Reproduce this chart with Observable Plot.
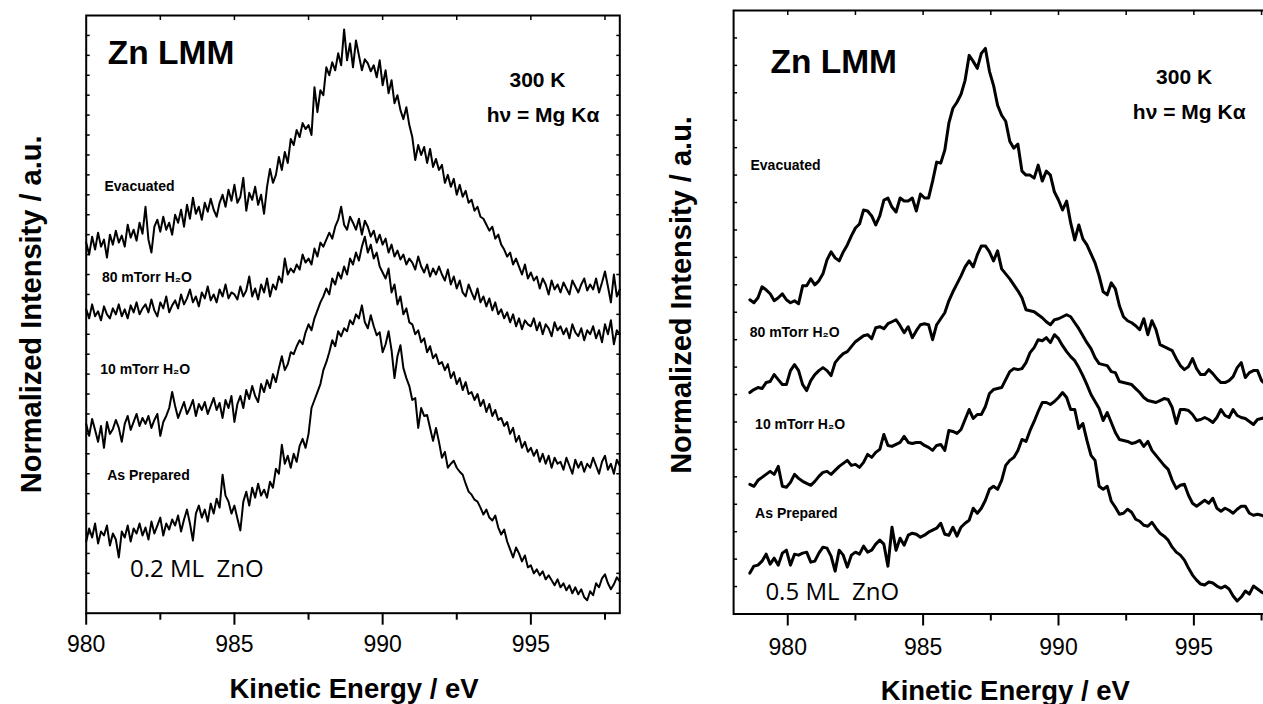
<!DOCTYPE html>
<html>
<head>
<meta charset="utf-8">
<script src="https://cdn.jsdelivr.net/npm/d3@7"></script>
<script src="https://cdn.jsdelivr.net/npm/@observablehq/plot@0.6"></script>
<style>
  html, body { margin: 0; padding: 0; background: #fff; overflow: hidden; }
  #wrap { position: relative; width: 1263px; height: 704px; overflow: hidden; background: #fff; }
  #left { position: absolute; left: 0; top: 0; width: 625px; height: 704px; }
  #right { position: absolute; left: 640px; top: 0; width: 640px; height: 704px; }
  #wrap svg { max-width: none !important; display: block; }
</style>
</head>
<body>
<div id="wrap"><div id="left"></div><div id="right"></div></div>
<script>
// ---------- texts ----------
const titleText = "Zn LMM";
const tempText = "300 K";
const sourceText = "hν = Mg Kα";
const seriesNames = ["Evacuated", "80 mTorr H₂O", "10 mTorr H₂O", "As Prepared"];
const coverageLeft = "0.2 ML\u00a0 ZnO";
const coverageRight = "0.5 ML\u00a0 ZnO";
const xTitle = "Kinetic Energy / eV";
const yTitle = "Normalized Intensity / a.u.";

// ---------- ticks ----------
const majorTicks = [980, 985, 990, 995];
const minorTicks = [982.5, 987.5, 992.5, 997.5];
const topTicksLeft = [982.5, 985, 987.5, 990, 992.5, 995, 997.5];
const topTicksRight = [980, 982.5, 985, 987.5, 990, 992.5, 995, 997.5];
const leftYTicks = [20,40,60,80,100,120,140,160,180,200,220,240,260,280,300,320,340,360,380,400,420,440,460,480,500,520,540,560,580];
const rightYTicks = [27.5,55,82.5,110,137.5,165,192.5,220,247.5,275,302.5,330,357.5,385,412.5,440,467.5,495,522.5,550,577.5];

// ---------- left panel (0.2 ML ZnO): energy grid 980.0 .. 998.0 eV, step 0.1 ----------
const leftEnergyStart = 980.0;
const leftEnergyStep = 0.1;
const leftEvacuated = [
  372,360,378,365,382,368,375,357,380,370,
  384,372,379,368,390,377,385,374,392,381,
  408,375,362,388,395,383,398,385,392,380,
  400,392,405,388,410,396,417,401,408,395,
  412,403,416,405,398,412,420,408,425,414,
  430,412,418,437,404,422,415,428,410,420,
  401,428,446,432,440,458,445,463,452,476,
  470,485,478,492,486,490,480,528,503,525,
  520,548,540,553,545,562,550,586,555,572,
  548,575,560,545,556,552,544,550,538,555,
  530,545,522,535,512,520,505,496,508,490,
  478,455,470,460,468,452,466,448,456,445,
  450,432,440,428,436,420,430,418,424,412,
  415,404,408,398,396,390,384,388,376,380,
  370,365,358,362,350,356,348,340,350,336,
  342,334,338,326,336,330,320,334,325,330,
  322,332,326,320,334,328,322,330,336,324,
  330,325,336,322,332,343,328,312,340,318,
  325];
const left80mTorr = [
  305,296,310,298,303,294,308,300,296,306,
  300,310,298,305,296,309,302,312,300,306,
  310,302,315,304,298,312,306,318,302,309,
  314,306,320,310,316,325,312,318,308,322,
  316,328,314,320,312,325,318,330,316,322,
  320,315,328,318,324,338,318,326,315,330,
  322,336,318,330,325,338,332,356,340,346,
  342,350,345,360,352,356,350,366,358,372,
  368,375,382,376,388,395,408,390,385,398,
  392,385,396,380,394,388,378,384,372,380,
  370,376,362,370,358,364,355,360,350,356,
  352,345,358,348,342,350,338,346,340,348,
  340,334,345,330,338,326,334,322,318,330,
  322,315,326,312,318,308,316,304,312,300,
  305,296,302,292,300,288,296,285,294,290,
  288,296,284,292,280,290,286,278,292,284,
  288,280,286,276,290,282,278,286,274,284,
  280,288,276,284,272,290,280,294,270,284,
  280];
const left10mTorr = [
  190,178,195,184,172,188,166,192,180,185,
  194,186,172,190,198,184,192,200,188,196,
  190,198,186,194,200,178,192,198,206,222,
  208,196,204,212,200,206,214,198,210,204,
  212,200,208,216,204,211,196,214,206,218,
  192,210,218,206,224,215,228,218,212,230,
  222,234,226,240,232,246,258,244,250,262,
  260,268,274,270,282,290,284,296,304,312,
  318,326,320,336,330,342,336,348,340,356,
  350,362,354,368,378,362,370,356,362,348,
  342,336,346,322,330,310,318,300,306,292,
  290,280,284,272,276,262,268,256,260,250,
  252,244,250,236,242,230,236,224,232,220,
  222,214,220,208,214,202,210,198,204,194,
  196,188,192,180,186,172,178,166,172,162,
  166,158,164,152,160,150,158,146,156,150,
  152,144,156,148,140,154,146,152,142,150,
  146,156,148,140,152,158,144,150,140,154,
  148];
const leftAsPrepared = [
  72,85,76,90,70,82,78,88,68,80,
  74,56,82,76,88,72,85,80,90,78,
  86,74,92,80,88,96,78,90,84,94,
  88,98,82,94,104,90,73,100,108,96,
  104,92,110,100,115,106,139,118,112,100,
  108,95,83,112,122,108,126,116,130,118,
  124,116,132,126,145,140,169,150,158,146,
  160,152,168,175,166,180,206,214,222,230,
  244,252,262,274,268,283,278,286,283,294,
  290,300,296,309,292,286,299,288,279,282,
  262,270,283,264,236,258,269,246,236,228,
  214,216,186,206,198,199,186,173,186,172,
  156,162,146,150,153,146,142,139,130,122,
  119,114,112,106,99,104,96,93,98,86,
  79,84,72,64,56,66,60,52,58,46,
  48,40,44,38,42,34,38,33,28,34,
  26,30,23,28,20,26,19,24,16,13,
  22,18,30,26,35,39,30,24,29,36,
  32];

// ---------- right panel (0.5 ML ZnO): energy grid 978.6 .. 997.95 eV, step 0.15 ----------
const rightEnergyStart = 978.6;
const rightEnergyStep = 0.15;
const rightEvacuated = [
  315,312,317,328,325,321,314,317,321,315,
  312,314,311,329,329,336,330,334,341,355,
  363,357,354,363,370,379,387,391,405,404,
  399,390,399,415,417,408,403,417,414,414,
  417,404,421,417,417,434,453,452,465,492,
  507,513,521,535,560,554,547,562,567,544,
  530,510,500,494,474,467,471,444,440,440,
  437,450,434,444,440,423,415,405,414,392,
  375,390,376,370,361,352,339,323,320,332,
  326,309,298,294,292,289,285,296,280,294,
  285,270,268,266,264,256,249,245,248,256,
  246,240,240,245,241,236,232,232,234,238,
  247,252,237,242,244,244,234,230,234,229];
const right80mTorr = [
  222,225,227,226,232,233,240,235,230,230,
  244,250,244,230,224,234,240,244,247,244,
  239,252,257,261,263,268,273,276,279,280,
  276,287,288,286,291,293,295,289,282,288,
  277,284,290,291,290,275,290,296,302,314,
  323,331,339,348,354,348,360,369,369,363,
  354,364,346,341,336,330,324,317,305,304,
  303,300,297,293,290,295,296,298,300,298,
  292,286,279,272,266,257,251,250,249,243,
  242,233,232,231,230,226,222,217,214,213,
  212,214,216,215,207,191,205,205,204,200,
  194,195,197,195,192,197,205,199,197,205,
  199,197,196,193,190,195,196,197,194,195];
const right10mTorr = [
  130,128,134,137,140,143,140,148,128,127,
  132,140,136,133,131,129,133,138,142,143,
  140,144,148,151,154,149,150,147,152,160,
  157,162,165,180,169,168,170,172,178,172,
  171,172,172,169,167,164,169,170,164,184,
  183,181,185,195,205,196,200,200,208,221,
  225,226,227,235,243,246,245,246,252,262,
  267,275,274,277,272,280,276,269,263,258,
  254,247,239,230,220,213,206,194,202,192,
  182,175,174,173,171,172,174,168,173,164,
  159,154,149,145,134,126,129,130,119,111,
  108,111,114,111,116,106,103,106,104,101,
  105,108,108,101,99,100,99,97,100,98];
const rightAsPrepared = [
  41,48,49,53,60,50,56,49,61,64,
  49,60,59,61,62,52,53,61,67,66,
  58,43,64,59,47,59,62,60,68,62,
  64,70,74,70,48,87,64,76,69,79,
  81,80,77,79,82,84,86,91,80,79,
  87,78,87,91,94,106,101,106,114,125,
  128,125,134,149,154,157,164,175,173,184,
  193,203,212,212,210,213,217,222,217,205,
  205,186,191,174,159,154,128,125,128,113,
  107,100,101,105,102,95,93,89,88,92,
  86,81,78,74,67,62,59,54,46,39,
  34,30,29,32,31,28,26,28,25,18,
  13,17,23,20,28,25,22,20,24,21];

// ---------- drawing ----------
const SANS = "'Liberation Sans', Arial, Helvetica, sans-serif";

function panel(cfg) {
  const rows = [];
  cfg.series.forEach((vals, k) => vals.forEach((v, i) =>
    rows.push({energy: cfg.start + i * cfg.step, intensity: v, name: seriesNames[k]})));
  const t = (txt, o) => Plot.text([txt], {text: d => d, fill: "black", fontFamily: SANS, ...o});
  const P = cfg.pos;
  const labelMarks = seriesNames.map((name, k) =>
    t(name, {frameAnchor: "top-left", dx: P.series[k][0], dy: P.series[k][1], textAnchor: "start", lineAnchor: "bottom", fontSize: 14, fontWeight: "bold"}));
  return Plot.plot({
    width: cfg.width, height: 704,
    marginLeft: cfg.ml, marginRight: cfg.mr, marginTop: cfg.mt, marginBottom: cfg.mb,
    style: {background: "transparent", color: "black", fontFamily: SANS, fontSize: "23px", overflow: "visible", maxWidth: "none"},
    x: {domain: cfg.xDomain, label: null},
    y: {domain: cfg.yDomain, label: null},
    marks: [
      Plot.line(rows, {x: "energy", y: "intensity", z: "name", stroke: "black", strokeWidth: cfg.lineWidth, strokeLinejoin: "round", strokeLinecap: "round"}),
      Plot.frame({stroke: "black", strokeWidth: 2}),
      Plot.axisX({anchor: "bottom", ticks: majorTicks, tickSize: 12, tickPadding: cfg.tickPad, tickFormat: d => String(d), strokeWidth: 2, fontSize: 23, label: null}),
      Plot.axisX({anchor: "bottom", ticks: minorTicks, tickSize: 7, tickFormat: () => "", strokeWidth: 2, label: null}),
      Plot.axisX({anchor: "top", ticks: cfg.topTicks, tickSize: 4, dy: 4, tickFormat: () => "", strokeWidth: 1.5, label: null}),
      Plot.axisY({anchor: "left", ticks: cfg.yTicks, tickSize: 4, dx: 4, tickFormat: () => "", strokeWidth: 1.5, label: null}),
      Plot.axisY({anchor: "right", ticks: cfg.yTicks, tickSize: 4, dx: -4, tickFormat: () => "", strokeWidth: 1.5, label: null}),
      t(titleText, {frameAnchor: "top-left", dx: P.title[0], dy: P.title[1], textAnchor: "start", lineAnchor: "bottom", fontSize: 33.5, fontWeight: "bold"}),
      t(tempText, {frameAnchor: "top-left", dx: P.temp[0], dy: P.temp[1], textAnchor: "middle", lineAnchor: "bottom", fontSize: 21, fontWeight: "bold"}),
      t(sourceText, {frameAnchor: "top-left", dx: P.source[0], dy: P.source[1], textAnchor: "middle", lineAnchor: "bottom", fontSize: 21, fontWeight: "bold"}),
      ...labelMarks,
      Plot.text([cfg.coverage], {text: d => d, fill: "black", frameAnchor: "top-left", dx: P.coverage[0], dy: P.coverage[1], textAnchor: "start", lineAnchor: "bottom", fontSize: 24, fontFamily: "'Open Sans', 'Noto Sans', sans-serif"}),
      t(xTitle, {frameAnchor: "bottom", dx: P.xTitle[0], dy: P.xTitle[1], textAnchor: "middle", lineAnchor: "bottom", fontSize: 27.5, fontWeight: "bold"}),
      t(yTitle, {frameAnchor: "left", dx: P.yTitle[0], dy: P.yTitle[1], rotate: -90, textAnchor: "middle", lineAnchor: "bottom", fontSize: 29, fontWeight: "bold"})
    ]
  });
}

const leftPlot = panel({
  series: [leftEvacuated, left80mTorr, left10mTorr, leftAsPrepared],
  start: leftEnergyStart, step: leftEnergyStep,
  width: 625, ml: 85.7, mr: 5.7, mt: 15, mb: 91.3,
  xDomain: [980, 998], yDomain: [0, 600], yTicks: leftYTicks, topTicks: topTicksLeft,
  lineWidth: 2, tickPad: 10.3, coverage: coverageLeft,
  pos: {
    title: [21.6, 48.3], temp: [451.3, 71], source: [456.8, 106.7],
    series: [[18.3, 175.7], [15.7, 266.7], [14, 358.8], [21, 464.6]],
    coverage: [43.8, 561], xTitle: [1, 84.3], yTitle: [-44.7, 0]
  }
});
const rightPlot = panel({
  series: [rightEvacuated, right80mTorr, right10mTorr, rightAsPrepared],
  start: rightEnergyStart, step: rightEnergyStep,
  width: 640, ml: 93.1, mr: 5.4, mt: 10, mb: 90.5,
  xDomain: [978, 998], yDomain: [0, 605], yTicks: rightYTicks, topTicks: topTicksRight,
  lineWidth: 3, tickPad: 12.8, coverage: coverageRight,
  pos: {
    title: [36.9, 62.7], temp: [450.5, 73.3], source: [455.6, 108.3],
    series: [[16.9, 159.3], [16.1, 326.7], [21.5, 418.3], [21.5, 507.3]],
    coverage: [31.8, 589.3], xTitle: [1, 85.5], yTitle: [-43.1, -17.3]
  }
});
document.getElementById("left").appendChild(leftPlot);
document.getElementById("right").appendChild(rightPlot);
</script>
</body>
</html>
